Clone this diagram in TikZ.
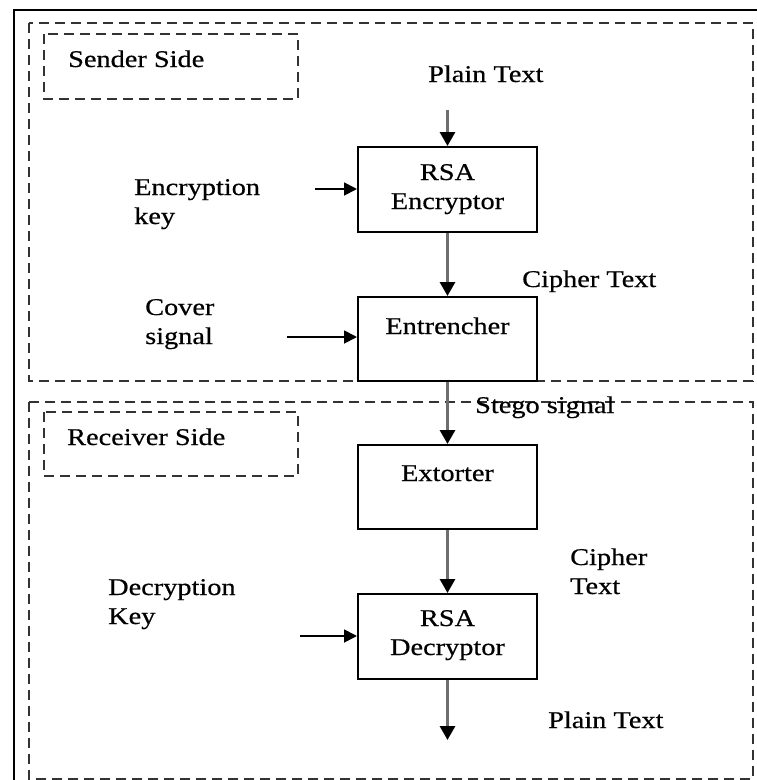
\documentclass[tikz,border=0pt]{standalone}
\usepackage{fontspec}
\setmainfont{Liberation Serif}[FakeStretch=1.18,FakeBold=0.5]
\usetikzlibrary{arrows.meta}
\definecolor{shaft}{HTML}{6E6E6E}
\definecolor{dashgray}{HTML}{333333}
\begin{document}
\begin{tikzpicture}[x=1pt,y=-1pt,
  txt/.style={font=\fontsize{24}{29}\selectfont, inner sep=0pt},
  lbl/.style={txt, anchor=base west},
  mlbl/.style={txt, anchor=base west, text width=170pt, align=left},
  stage/.style={txt, draw=black, line width=2pt, minimum width=179pt,
    text width=179pt, align=center, anchor=north},
  frame/.style={draw=dashgray, line width=1.8pt, dash pattern=on 10pt off 6pt},
  flow/.style={draw=shaft, line width=3pt,
    -{Triangle[length=14pt,width=15pt,color=black]}},
  feed/.style={draw=black, line width=1.8pt,
    -{Triangle[length=13pt,width=13pt,color=black]}}]
\useasboundingbox (0,0) rectangle (757,780);
\fill[white] (0,0) rectangle (757,780);

% outer border (top and left edges)
\draw[line width=2.5pt] (14,780) -- (14,10) -- (757,10);

% sender and receiver regions
\draw[frame] (29,23) rectangle (753,381);
\draw[frame] (44,34) rectangle (298,99);
\draw[frame] (29,402) rectangle (753,779);
\draw[frame] (44,412) rectangle (298,476);
\node[lbl] (sender) at (68,67) {Sender Side};
\node[lbl] (receiver) at (67,445) {Receiver Side};

% processing stages
\node[stage, text height=33pt, text depth=52pt] (enc) at (447.5,146) {RSA\\Encryptor};
\node[stage, text height=37pt, text depth=47pt] (ent) at (447.5,296) {Entrencher};
\node[stage, text height=36pt, text depth=48pt] (ext) at (447.5,444) {Extorter};
\node[stage, text height=32pt, text depth=53pt] (dec) at (447.5,593) {RSA\\Decryptor};

% labels
\node[lbl] (plainin) at (428,82) {Plain Text};
\node[mlbl] (enckey) at (134,195) {Encryption\\key};
\node[lbl] (cipher) at (522,287) {Cipher Text};
\node[mlbl] (cover) at (145,315) {Cover\\signal};
\node[lbl] (stego) at (475,413) {Stego signal};
\node[mlbl] (cipher2) at (570,565) {Cipher\\Text};
\node[mlbl] (deckey) at (108,595) {Decryption\\Key};
\node[lbl] (plainout) at (548,728) {Plain Text};

% free ends of the connectors
\coordinate (pin) at (447.5,110);
\coordinate (pout) at (447.5,740);
\coordinate (kin) at (315,189);
\coordinate (cin) at (287,337);
\coordinate (din) at (300,636);

% main flow
\draw[flow] (pin) -- (enc.north);
\draw[flow] (enc.south) -- (ent.north);
\draw[flow] (ent.south) -- (ext.north);
\draw[flow] (ext.south) -- (dec.north);
\draw[flow] (dec.south) -- (pout);

% side inputs
\draw[feed] (kin) -- (kin -| enc.west);
\draw[feed] (cin) -- (cin -| ent.west);
\draw[feed] (din) -- (din -| dec.west);
\end{tikzpicture}
\end{document}
